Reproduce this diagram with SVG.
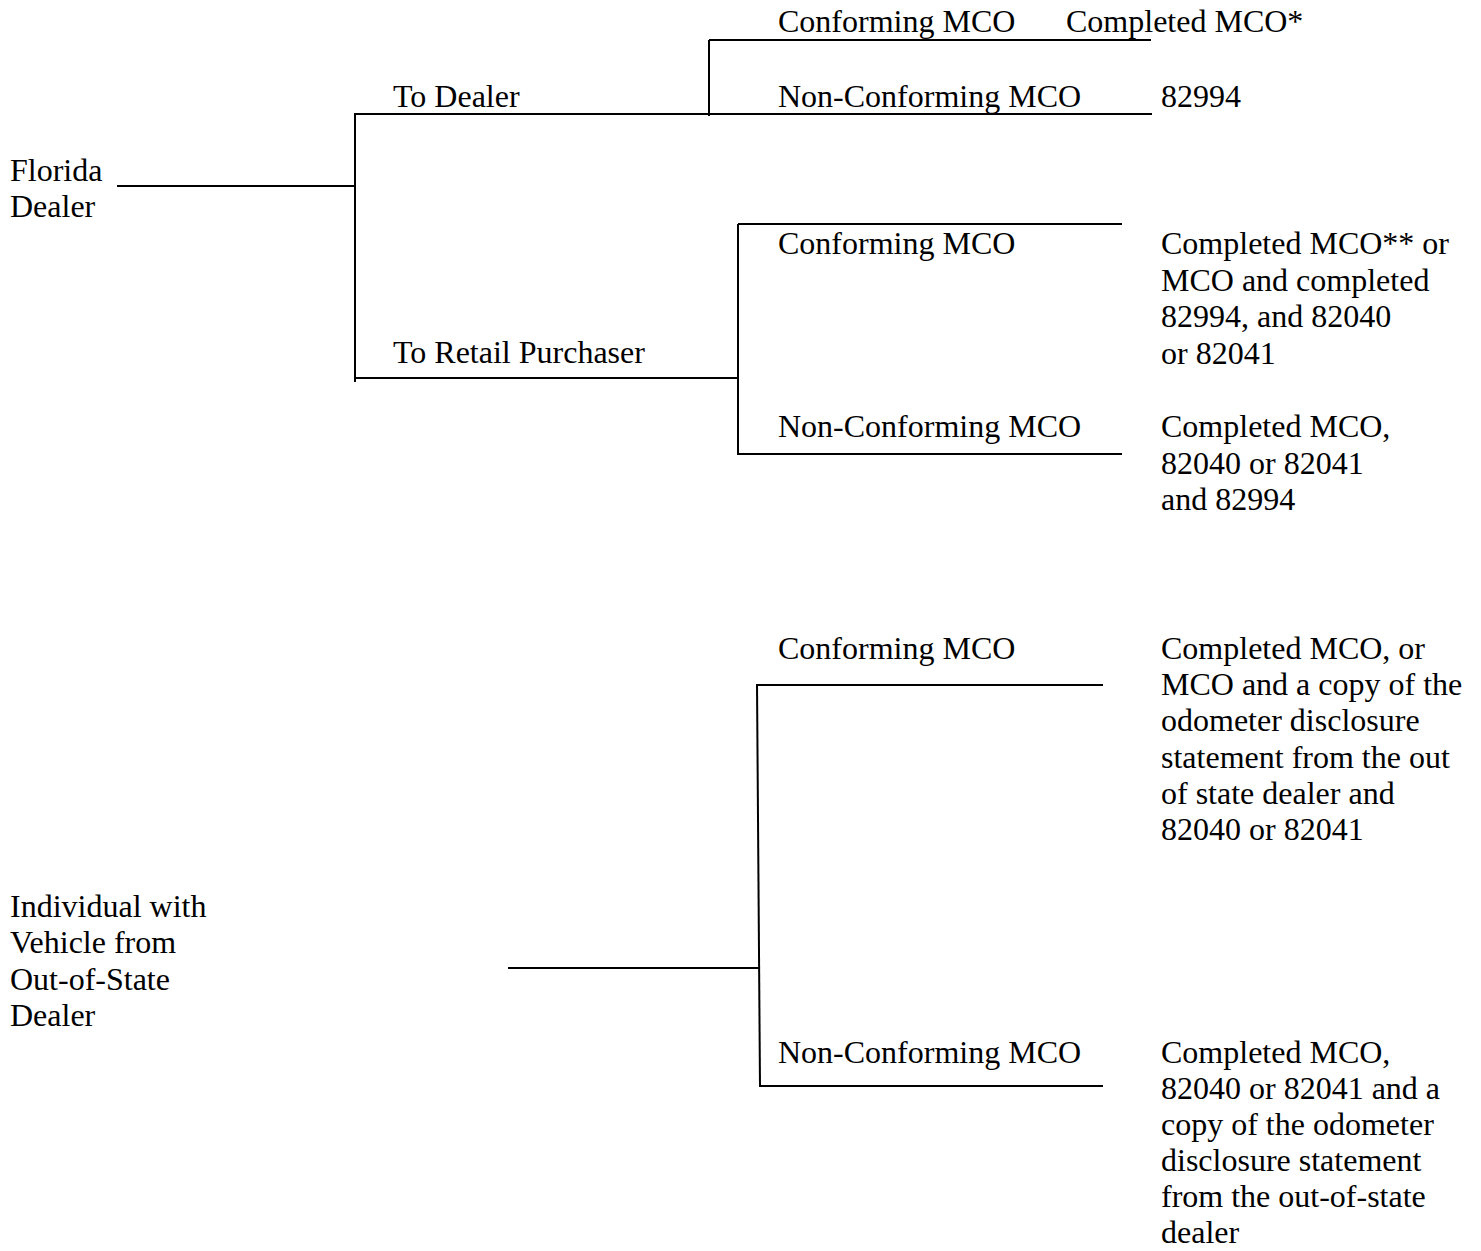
<svg xmlns="http://www.w3.org/2000/svg" width="1481" height="1251" viewBox="0 0 1481 1251">
<style>
text{font-family:"Liberation Serif","Times New Roman",serif;font-size:32px;fill:#000}
.ln{stroke:#000;stroke-width:2;fill:none}
</style>
<rect width="1481" height="1251" fill="#fff"/>
<g id="connectors">
<line class="ln" x1="117" y1="186" x2="355" y2="186"/>
<line class="ln" x1="355" y1="113" x2="355" y2="382"/>
<line class="ln" x1="355" y1="114" x2="1152" y2="114"/>
<line class="ln" x1="709" y1="40" x2="709" y2="116"/>
<line class="ln" x1="709" y1="40" x2="1151" y2="40"/>
<line class="ln" x1="355" y1="378" x2="738" y2="378"/>
<line class="ln" x1="738" y1="224" x2="738" y2="455"/>
<line class="ln" x1="738" y1="224" x2="1122" y2="224"/>
<line class="ln" x1="738" y1="454" x2="1122" y2="454"/>
<line class="ln" x1="508" y1="968" x2="759" y2="968"/>
<line class="ln" x1="757" y1="684" x2="760" y2="1087"/>
<line class="ln" x1="757" y1="685" x2="1103" y2="685"/>
<line class="ln" x1="759" y1="1086" x2="1103" y2="1086"/>
</g>
<g id="florida-dealer"><text x="10" y="181">Florida<tspan x="10" dy="36.4">Dealer</tspan></text></g>
<g id="to-dealer"><text x="393" y="107">To Dealer</text></g>
<g id="to-retail"><text x="393" y="363">To Retail Purchaser</text></g>
<g id="dealer-conforming"><text x="778" y="32">Conforming MCO</text></g>
<g id="dealer-conforming-result"><text x="1066" y="32">Completed MCO*</text></g>
<g id="dealer-nonconforming"><text x="778" y="107">Non-Conforming MCO</text></g>
<g id="dealer-nonconforming-result"><text x="1161" y="107">82994</text></g>
<g id="retail-conforming"><text x="778" y="254">Conforming MCO</text></g>
<g id="retail-conforming-result"><text x="1161" y="254">Completed MCO** or<tspan x="1161" dy="36.5">MCO and completed</tspan><tspan x="1161" dy="36.5">82994, and 82040</tspan><tspan x="1161" dy="36.5">or 82041</tspan></text></g>
<g id="retail-nonconforming"><text x="778" y="437">Non-Conforming MCO</text></g>
<g id="retail-nonconforming-result"><text x="1161" y="437">Completed MCO,<tspan x="1161" dy="36.5">82040 or 82041</tspan><tspan x="1161" dy="36.5">and 82994</tspan></text></g>
<g id="individual"><text x="10" y="917">Individual with<tspan x="10" dy="36.3">Vehicle from</tspan><tspan x="10" dy="36.3">Out-of-State</tspan><tspan x="10" dy="36.3">Dealer</tspan></text></g>
<g id="ind-conforming"><text x="778" y="659">Conforming MCO</text></g>
<g id="ind-conforming-result"><text x="1161" y="659">Completed MCO, or<tspan x="1161" dy="36.2">MCO and a copy of the</tspan><tspan x="1161" dy="36.2">odometer disclosure</tspan><tspan x="1161" dy="36.2">statement from the out</tspan><tspan x="1161" dy="36.2">of state dealer and</tspan><tspan x="1161" dy="36.2">82040 or 82041</tspan></text></g>
<g id="ind-nonconforming"><text x="778" y="1063">Non-Conforming MCO</text></g>
<g id="ind-nonconforming-result"><text x="1161" y="1063">Completed MCO,<tspan x="1161" dy="36">82040 or 82041 and a</tspan><tspan x="1161" dy="36">copy of the odometer</tspan><tspan x="1161" dy="36">disclosure statement</tspan><tspan x="1161" dy="36">from the out-of-state</tspan><tspan x="1161" dy="36">dealer</tspan></text></g>
</svg>
